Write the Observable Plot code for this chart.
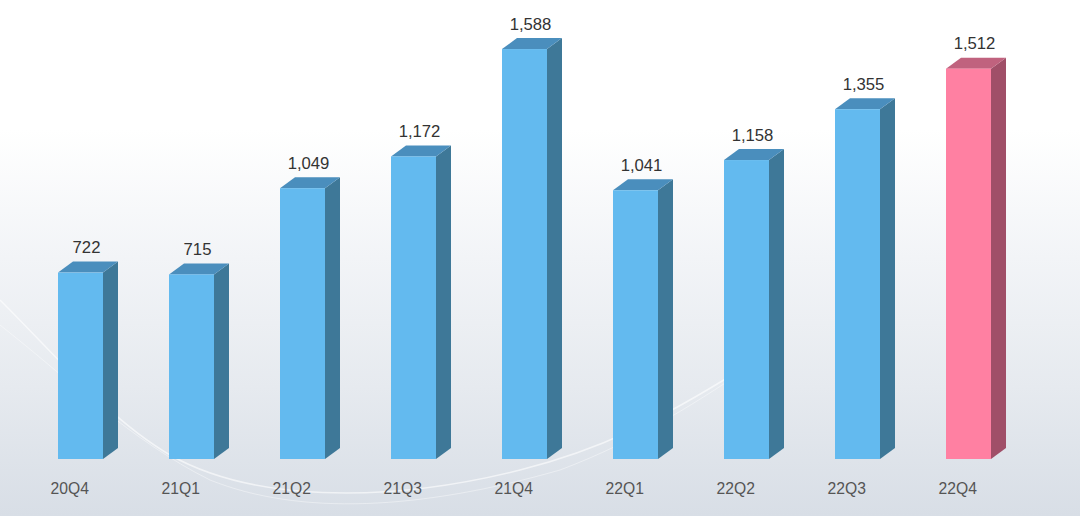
<!DOCTYPE html>
<html>
<head>
<meta charset="utf-8">
<script src="https://cdn.jsdelivr.net/npm/d3@7"></script>
<script src="https://cdn.jsdelivr.net/npm/@observablehq/plot@0.6"></script>
<style>
  html, body { margin: 0; padding: 0; }
  body {
    width: 1080px; height: 516px; overflow: hidden; position: relative;
    background: linear-gradient(to bottom, #ffffff 0%, #ffffff 25%, #f2f4f7 50%, #e6eaef 75%, #d8dee6 100%);
    font-family: "Liberation Sans", Arial, sans-serif;
  }
  #bg { position: absolute; left: 0; top: 0; }
  #chart { position: absolute; left: 0; top: 0; }
</style>
</head>
<body>
<svg id="bg" width="1080" height="516">
  <path d="M0,300 C60,360 110,420 170,455 C250,500 380,505 520,470 C600,450 660,420 740,370" fill="none" stroke="#ffffff" stroke-opacity="0.6" stroke-width="1.5"/>
  <path d="M0,325 C70,380 130,440 210,480 C300,516 420,510 560,470" fill="none" stroke="#ffffff" stroke-opacity="0.4" stroke-width="1"/>
  <path d="M560,470 C640,440 700,400 760,360" fill="none" stroke="#ffffff" stroke-opacity="0.4" stroke-width="1"/>
</svg>
<div id="chart"></div>
<script>
const quarters = ["20Q4", "21Q1", "21Q2", "21Q3", "21Q4", "22Q1", "22Q2", "22Q3", "22Q4"];
const values = [722, 715, 1049, 1172, 1588, 1041, 1158, 1355, 1512];
const highlightQuarter = "22Q4";

const data = quarters.map((q, i) => ({quarter: q, value: values[i]}));

const colors = {
  normal: {front: "#63baef", side: "#3e7898", top: "#4a8ebd"},
  highlight: {front: "#ff80a2", side: "#a04f68", top: "#c0627e"}
};
const depthX = 15, depthY = 11;

function faces(index, scales) {
  const g = d3.create("svg:g");
  const x = scales.x, y = scales.y;
  const bw = x.bandwidth ? x.bandwidth() : 45;
  const y0 = y(0);
  data.forEach(d => {
    const c = d.quarter === highlightQuarter ? colors.highlight : colors.normal;
    const L = x(d.quarter), R = L + bw, T = y(d.value);
    g.append("path")
      .attr("d", `M${R},${T}L${R + depthX},${T - depthY}L${R + depthX},${y0 - depthY}L${R},${y0}Z`)
      .attr("fill", c.side);
    g.append("path")
      .attr("d", `M${L},${T}L${L + depthX},${T - depthY}L${R + depthX},${T - depthY}L${R},${T}Z`)
      .attr("fill", c.top);
  });
  return g.node();
}

const chart = Plot.plot({
  width: 1080,
  height: 516,
  marginTop: 0,
  marginBottom: 57,
  marginLeft: 0,
  marginRight: 0,
  style: {background: "transparent", fontFamily: "'Liberation Sans', Arial, sans-serif"},
  x: {domain: quarters, range: [58, 993], paddingInner: 0.5955, paddingOuter: 0, align: 0},
  y: {domain: [0, 1778], axis: null},
  marks: [
    faces,
    Plot.barY(data, {
      x: "quarter", y: "value",
      fill: d => d.quarter === highlightQuarter ? colors.highlight.front : colors.normal.front
    }),
    Plot.text(data, {
      x: "quarter", y: "value",
      text: d => d3.format(",")(d.value),
      dx: 5.5, dy: -20, lineAnchor: "bottom",
      fontSize: 16.7, fill: "#333333"
    }),
    Plot.axisX({
      tickSize: 0, tickPadding: 23, textAnchor: "start", dx: -30.5,
      fontSize: 15.7, fill: "#555555", label: null
    })
  ]
});
document.getElementById("chart").appendChild(chart);
</script>
</body>
</html>
